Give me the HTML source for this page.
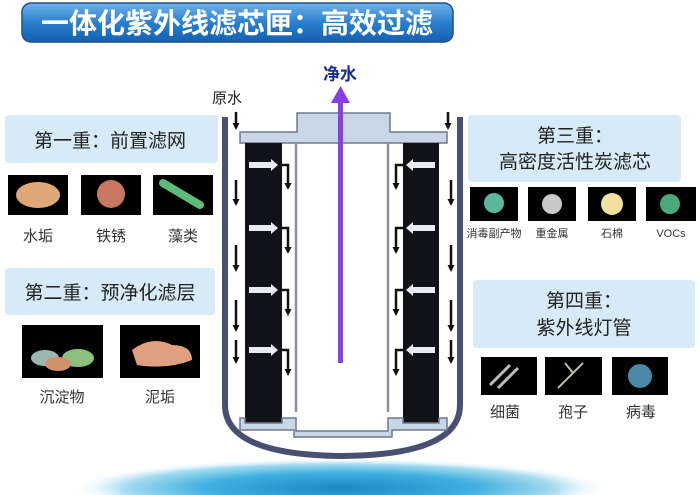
<!DOCTYPE html>
<html><head><meta charset="utf-8"><style>
html,body{margin:0;width:700px;height:495px;background:#fff;overflow:hidden;font-family:"Liberation Sans","Noto Sans CJK SC",sans-serif}
svg{display:block}
</style></head><body>
<svg width="700" height="495" viewBox="0 0 700 495" xmlns="http://www.w3.org/2000/svg" font-family="Liberation Sans, Noto Sans CJK SC, sans-serif">
<defs>
<linearGradient id="tg" x1="0" y1="0" x2="0" y2="1"><stop offset="0" stop-color="#6fb2ea"/><stop offset="0.5" stop-color="#2a7fd0"/><stop offset="1" stop-color="#1560b0"/></linearGradient>
<radialGradient id="wg" cx="0.5" cy="0.6" r="0.5"><stop offset="0" stop-color="#1a88c0"/><stop offset="0.5" stop-color="#40b0e0"/><stop offset="0.8" stop-color="#a8dcf0"/><stop offset="1" stop-color="#ffffff" stop-opacity="0"/></radialGradient>
<clipPath id="cp"><rect x="0" y="0" width="700" height="495"/></clipPath>
<marker id="bk" markerWidth="7" markerHeight="7" refX="5" refY="3.5" orient="auto" markerUnits="userSpaceOnUse"><path d="M0,0 L7,3.5 L0,7z" fill="#111"/></marker>
</defs>
<g clip-path="url(#cp)">
<ellipse cx="340" cy="482" rx="270" ry="30" fill="url(#wg)"/>
</g>
<rect x="22" y="3" width="431" height="39" rx="9" fill="url(#tg)" stroke="#1a4f8a" stroke-width="1.5"/>
<text x="237" y="33" font-size="28" font-weight="bold" fill="#fff" text-anchor="middle">一体化紫外线滤芯匣：高效过滤</text>
<path d="M225,117 L225,405 Q225,455 342,456 Q460,455 460,405 L460,117" fill="none" stroke="#4a4f72" stroke-width="6"/>
<path d="M240,132 L297,132 L297,113 L390,113 L390,132 L447,132 L447,143 L240,143z" fill="#c9d6e6" stroke="#6a7a92" stroke-width="1.5"/>
<rect x="245" y="143" width="37" height="280" fill="#111318"/>
<rect x="403" y="143" width="36" height="280" fill="#111318"/>
<line x1="296" y1="143" x2="296" y2="412" stroke="#8a90a0" stroke-width="2.5"/>
<line x1="388" y1="143" x2="388" y2="412" stroke="#8a90a0" stroke-width="2.5"/>
<path d="M240,418 L245,418 L245,423 L282,423 L282,418 L296,418 L296,431 L388,431 L388,418 L403,418 L403,423 L439,423 L439,418 L447,418 L447,430 L392,430 L392,437 L294,437 L294,430 L240,430z" fill="#c9d6e6" stroke="#6a7a92" stroke-width="1.5"/>
<rect x="338" y="100" width="5" height="263" fill="#8a3ee8"/>
<path d="M331,103 L340.5,86 L350,103z" fill="#8a3ee8"/>
<text x="340" y="80" font-size="17" font-weight="bold" fill="#1a2a9a" text-anchor="middle">净水</text>
<text x="212" y="103" font-size="15" fill="#222">原水</text>
<g stroke="#111" stroke-width="2.5" fill="none" marker-end="url(#bk)">
<line x1="236" y1="112" x2="236" y2="128"/><line x1="448" y1="112" x2="448" y2="128"/>
<line x1="236" y1="180" x2="236" y2="204"/><line x1="236" y1="245" x2="236" y2="270"/><line x1="236" y1="300" x2="236" y2="330"/><line x1="236" y1="340" x2="236" y2="362"/>
<line x1="451" y1="180" x2="451" y2="204"/><line x1="451" y1="245" x2="451" y2="270"/><line x1="451" y1="300" x2="451" y2="330"/><line x1="451" y1="340" x2="451" y2="362"/>
<polyline points="282,165 288,165 288,188"/><polyline points="282,228 288,228 288,252"/><polyline points="282,290 288,290 288,314"/><polyline points="282,350 288,350 288,374"/>
<polyline points="403,165 396,165 396,188"/><polyline points="403,228 396,228 396,252"/><polyline points="403,290 396,290 396,314"/><polyline points="403,350 396,350 396,374"/>
</g>
<g fill="#e8ecf2">
<path d="M249,162 h22 v-3 l7,6 -7,6 v-3 h-22z"/><path d="M249,225 h22 v-3 l7,6 -7,6 v-3 h-22z"/><path d="M249,287 h22 v-3 l7,6 -7,6 v-3 h-22z"/><path d="M249,347 h22 v-3 l7,6 -7,6 v-3 h-22z"/>
<path d="M435,162 h-22 v-3 l-7,6 7,6 v-3 h22z"/><path d="M435,225 h-22 v-3 l-7,6 7,6 v-3 h22z"/><path d="M435,287 h-22 v-3 l-7,6 7,6 v-3 h22z"/><path d="M435,347 h-22 v-3 l-7,6 7,6 v-3 h22z"/>
</g>
<rect x="5" y="115" width="213" height="48" rx="4" fill="#d6eaf8"/>
<text x="110" y="147" font-size="19" fill="#222" text-anchor="middle">第一重：前置滤网</text>
<rect x="8" y="175" width="60" height="40" fill="#000"/><ellipse cx="38" cy="195" rx="22" ry="13" fill="#e0a878"/>
<rect x="81" y="175" width="60" height="40" fill="#000"/><ellipse cx="111" cy="194" rx="14" ry="14" fill="#c87860"/>
<rect x="153" y="175" width="60" height="40" fill="#000"/><line x1="163" y1="183" x2="200" y2="205" stroke="#5cbc7c" stroke-width="8" stroke-linecap="round"/>
<g font-size="15" fill="#333" text-anchor="middle"><text x="38" y="241">水垢</text><text x="111" y="241">铁锈</text><text x="183" y="241">藻类</text></g>
<rect x="5" y="268" width="210" height="47" rx="4" fill="#d6eaf8"/>
<text x="110" y="299" font-size="19" fill="#222" text-anchor="middle">第二重：预净化滤层</text>
<rect x="22" y="325" width="81" height="53" fill="#000"/><ellipse cx="45" cy="358" rx="14" ry="8" fill="#9ab8b0"/><ellipse cx="78" cy="358" rx="16" ry="9" fill="#8cc07c"/><ellipse cx="58" cy="364" rx="13" ry="7" fill="#d0906c"/>
<rect x="120" y="325" width="80" height="53" fill="#000"/><path d="M132,350 q20,-15 40,-5 q20,0 20,15 q-25,10 -55,5z" fill="#e0a080"/>
<g font-size="15" fill="#333" text-anchor="middle"><text x="62" y="402">沉淀物</text><text x="160" y="402">泥垢</text></g>
<rect x="468" y="115" width="213" height="67" rx="4" fill="#d6eaf8"/>
<text x="575" y="142" font-size="19" fill="#222" text-anchor="middle">第三重：</text>
<text x="575" y="168" font-size="19" fill="#222" text-anchor="middle">高密度活性炭滤芯</text>
<rect x="470" y="187" width="48" height="34" fill="#000"/><circle cx="494" cy="203" r="10" fill="#5cb89c"/>
<rect x="528" y="187" width="48" height="34" fill="#000"/><circle cx="552" cy="204" r="10" fill="#c8c8c8"/>
<rect x="588" y="187" width="48" height="34" fill="#000"/><circle cx="612" cy="204" r="11" fill="#f0e0a0"/>
<rect x="646" y="187" width="50" height="34" fill="#000"/><circle cx="670" cy="204" r="10" fill="#4aa87c"/>
<g font-size="11" fill="#333" text-anchor="middle"><text x="494" y="237">消毒副产物</text><text x="552" y="237">重金属</text><text x="612" y="237">石棉</text><text x="671" y="237">VOCs</text></g>
<rect x="473" y="280" width="222" height="68" rx="4" fill="#d6eaf8"/>
<text x="584" y="307" font-size="19" fill="#222" text-anchor="middle">第四重：</text>
<text x="584" y="334" font-size="19" fill="#222" text-anchor="middle">紫外线灯管</text>
<rect x="481" y="357" width="56" height="38" fill="#000"/><rect x="545" y="357" width="57" height="38" fill="#000"/><rect x="612" y="357" width="56" height="38" fill="#000"/>
<path d="M490,385 l20,-20 M498,388 l20,-20" stroke="#bbb" stroke-width="3"/>
<path d="M558,388 l15,-15 l10,-10 M573,373 l-8,-10" stroke="#bba" stroke-width="2" fill="none"/>
<circle cx="640" cy="376" r="12" fill="#4a8aa8"/>
<g font-size="15" fill="#333" text-anchor="middle"><text x="505" y="417">细菌</text><text x="573" y="417">孢子</text><text x="641" y="417">病毒</text></g>
</svg>
</body></html>
